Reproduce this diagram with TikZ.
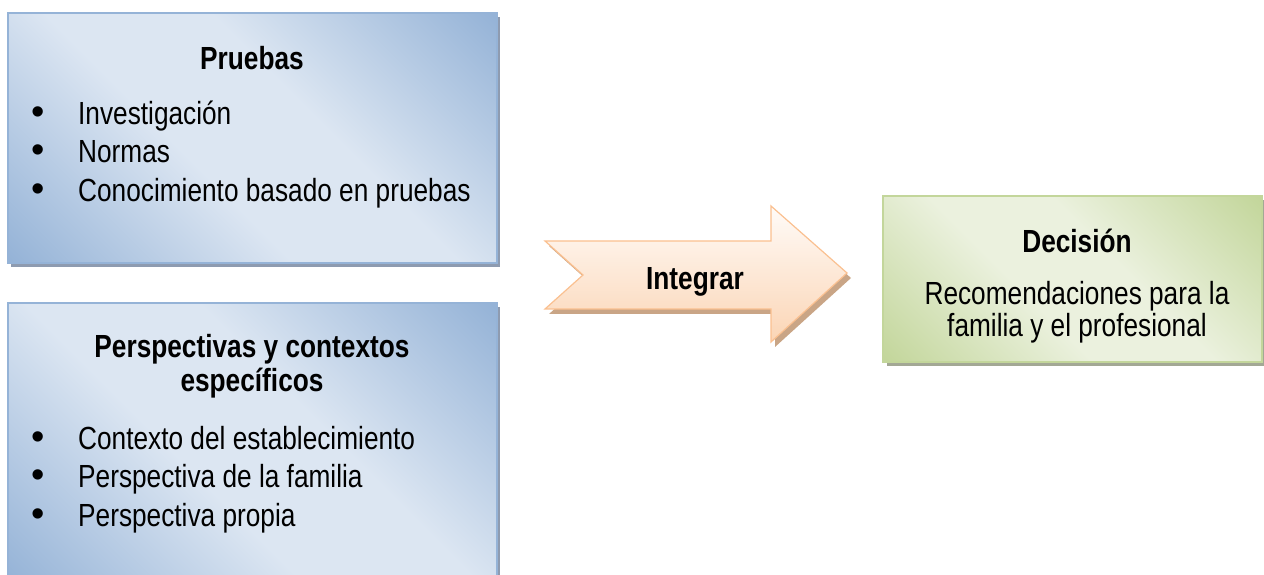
\documentclass[tikz,border=0pt]{standalone}
\usepackage{fontspec}
\setmainfont{Liberation Sans}[FakeStretch=0.82]
\newfontfamily\bulletfont{Liberation Sans}
\usetikzlibrary{shadows}

\definecolor{bluelight}{HTML}{DCE6F2}
\definecolor{bluedark}{HTML}{95B3D7}
\definecolor{blueline}{HTML}{95B3D7}
\definecolor{blueshadow}{HTML}{8E9BB0}
\definecolor{greenlight}{HTML}{EBF1DE}
\definecolor{greendark}{HTML}{C3D69B}
\definecolor{greenshadow}{HTML}{A3A895}
\definecolor{peachtop}{HTML}{FFFBF8}
\definecolor{peachbot}{HTML}{FBD5B5}
\definecolor{peachline}{HTML}{FAC090}
\definecolor{peachshadow}{HTML}{C9A586}

\pgfdeclarehorizontalshading{bluediag}{100bp}{color(0bp)=(bluedark); color(15bp)=(bluedark); color(42bp)=(bluelight); color(58bp)=(bluelight); color(85bp)=(bluedark); color(100bp)=(bluedark)}
\pgfdeclarehorizontalshading{greendiag}{100bp}{color(0bp)=(greendark); color(15bp)=(greendark); color(42bp)=(greenlight); color(58bp)=(greenlight); color(85bp)=(greendark); color(100bp)=(greendark)}

\newcommand{\bulletmark}{\makebox[47pt][l]{{\bulletfont\fontsize{38}{38}\selectfont\textbullet}}}

\begin{document}
\begin{tikzpicture}[
                x=1pt, y=1pt,
                bluebox/.style={draw=blueline, line width=1.5pt, shading=bluediag, shading angle=45,
                    drop shadow={shadow xshift=3pt, shadow yshift=-4pt, fill=blueshadow, opacity=1}},
                greenbox/.style={draw=greendark, line width=1.5pt, shading=greendiag, shading angle=45,
                    drop shadow={shadow xshift=4pt, shadow yshift=-4pt, fill=greenshadow, opacity=1}},
                arrowbox/.style={draw=peachline, line width=1.2pt, top color=peachtop, bottom color=peachbot,
                    drop shadow={shadow xshift=4pt, shadow yshift=-5pt, fill=peachshadow, opacity=1}},
                title/.style={anchor=base, inner sep=0pt, font=\fontsize{32}{38}\selectfont\bfseries},
                item/.style={anchor=base west, inner sep=0pt, font=\fontsize{32}{38}\selectfont},
                line/.style={anchor=base, inner sep=0pt, font=\fontsize{32}{38}\selectfont},
            ]
            \useasboundingbox (0,0) rectangle (1264,575);
            \clip (0,0) rectangle (1264,575);
            % boxes
            \draw[bluebox] (8,562) rectangle (497,312);
            \draw[bluebox] (8,272) rectangle (497,-10);
            \draw[greenbox] (883,379) rectangle (1262,213);
            \draw[arrowbox] (545,334) -- (583,300) -- (545,266) -- (771,266) -- (771,233)
                -- (847,302) -- (771,369) -- (771,334) -- cycle;
            % texts
            \node[title] (pruebas) at (252,505) {Pruebas};
            \node[item] (inv) at (31,450) {\bulletmark Investigación};
            \node[item] (normas) at (31,412) {\bulletmark Normas};
            \node[item] (conoc) at (31,373) {\bulletmark Conocimiento basado en pruebas};
            \node[title] (persp) at (252,217) {Perspectivas y contextos};
            \node[title] (especif) at (252,183) {específicos};
            \node[item] (contexto) at (31,125) {\bulletmark Contexto del establecimiento};
            \node[item] (familia) at (31,87) {\bulletmark Perspectiva de la familia};
            \node[item] (propia) at (31,48) {\bulletmark Perspectiva propia};
            \node[title] (integrar) at (695,285) {Integrar};
            \node[title] (decision) at (1077,322) {Decisión};
            \node[line] (recom) at (1077,270) {Recomendaciones para la};
            \node[line] (famprof) at (1077,238) {familia y el profesional};
            \end{tikzpicture}
\end{document}
